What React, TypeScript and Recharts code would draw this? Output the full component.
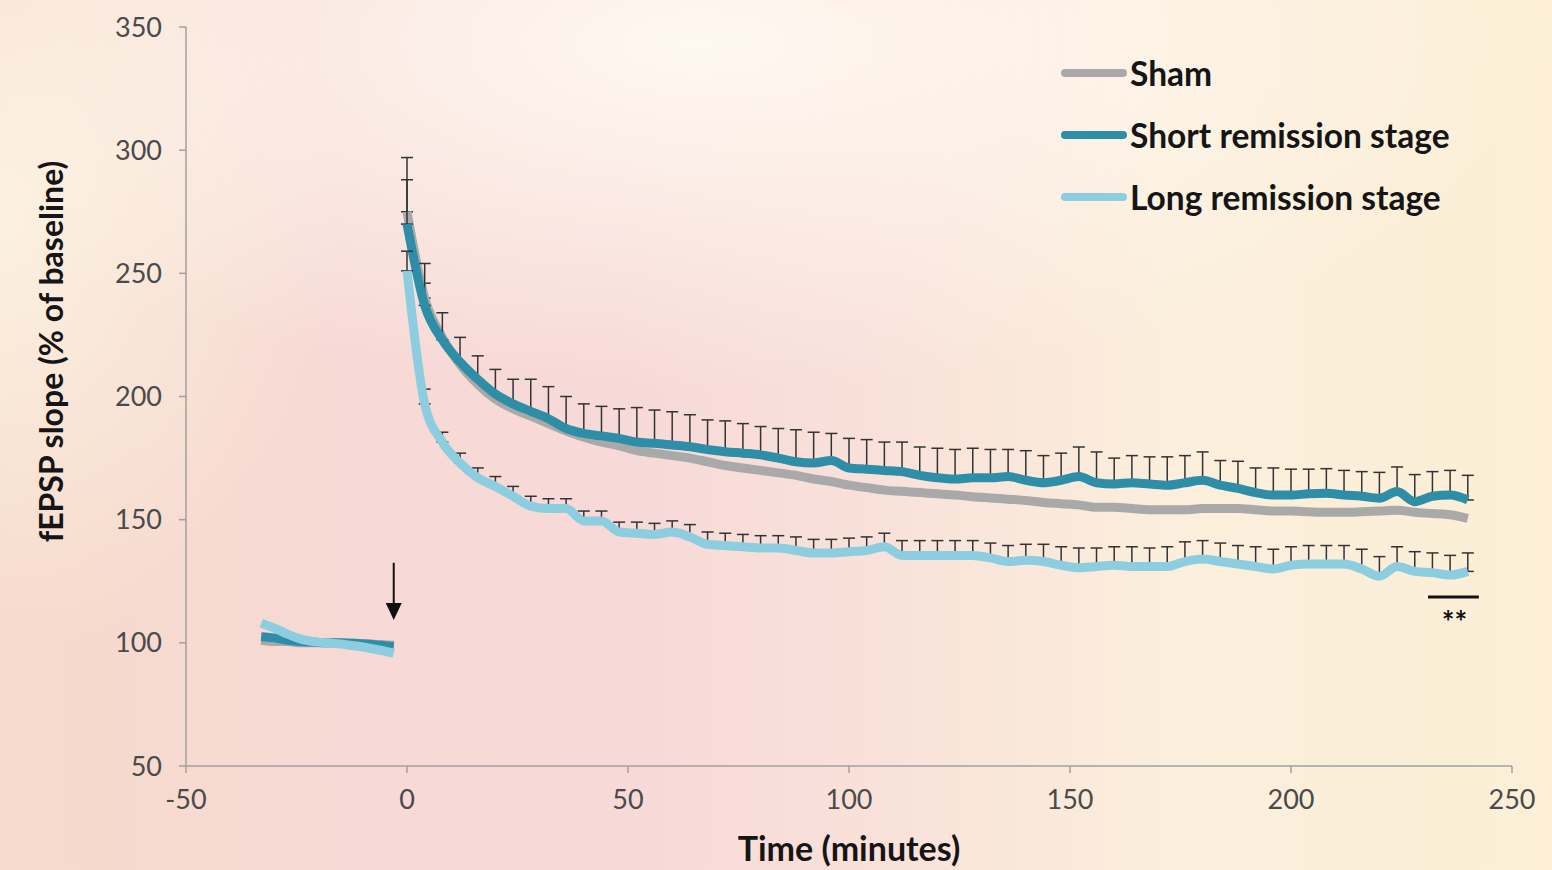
import {
  LineChart,
  Line,
  XAxis,
  YAxis,
  ErrorBar,
  Legend,
  Label,
  ReferenceLine,
  ReferenceDot,
} from 'recharts';

// time grid (minutes)
const baselineTimes = [-33, -30, -27, -24, -21, -18, -15, -12, -9, -6, -3];
const postTimes = [
  0, 4, 8, 12, 16, 20, 24, 28, 32, 36, 40, 44, 48, 52, 56, 60, 64, 68, 72, 76,
  80, 84, 88, 92, 96, 100, 104, 108, 112, 116, 120, 124, 128, 132, 136, 140,
  144, 148, 152, 156, 160, 164, 168, 172, 176, 180, 184, 188, 192, 196, 200,
  204, 208, 212, 216, 220, 224, 228, 232, 236, 240,
];

// baseline, % of baseline
const shamBase = [101, 100.5, 100.5, 100, 100, 100, 100, 99.8, 99.5, 99.3, 99];
const shortBase = [102.5, 102, 101, 100.5, 100.3, 100, 100, 99.8, 99.5, 99, 98.5];
const longBase = [108, 106, 103.5, 101.5, 100.5, 100, 99.5, 98.8, 98, 97, 95.8];

// after tetanus
const shamPost = [
  275, 240, 224, 213, 205, 199, 195, 192, 189, 186, 183.5, 181.5, 180, 178,
  177, 176, 175, 173.5, 172, 171, 170, 169, 168, 166.5, 165.5, 164, 163, 162,
  161.5, 161, 160.5, 160, 159.3, 158.8, 158.3, 157.8, 157, 156.5, 156, 155,
  155, 154.5, 154, 154, 154, 154.5, 154.5, 154.5, 154, 153.5, 153.5, 153.2,
  153, 153, 153.2, 153.5, 153.8, 153, 152.5, 152, 150.5,
];
const shortPost = [
  270, 237, 223, 214, 207, 201, 197, 194, 191, 187, 185, 184, 183, 181.5, 181,
  180.3, 179.6, 178.5, 177.6, 177, 176.3, 175, 173.5, 173, 174, 171, 170.5,
  170, 169.5, 168, 167, 166.5, 167, 167, 167.5, 166, 165, 166, 167.5, 165,
  164.5, 165, 164.5, 164, 165, 166, 164, 162.7, 161, 160, 160, 160.5, 160.7,
  160, 159.5, 158.7, 161.4, 157.3, 159.5, 160, 158,
];
const longPost = [
  251, 197, 181.5, 173, 167, 163.5, 159.5, 155.5, 154.5, 154.5, 149.5, 149.5,
  145, 144.5, 144, 145, 143, 140, 139.5, 139, 138.5, 138.5, 137.5, 136.5,
  136.5, 137, 137.5, 139, 135.5, 135.5, 135.5, 135.5, 135.5, 134.5, 133,
  133.5, 133, 131.5, 130.5, 131, 131.5, 131, 131, 131, 133, 134, 133, 132,
  131, 130, 131.5, 132, 132, 132, 130, 127, 131, 129, 128.5, 127.5, 129,
];

// SEM (upper bars only are visible)
const shamErr = [22, 6];
const shortErr = [
  18, 17, 11, 10, 9.5, 10, 10, 13, 13, 13, 12, 12, 12, 14, 13.5, 13.5, 13, 12,
  12.5, 12, 11.5, 12, 13, 12.5, 11, 12, 12, 11.5, 12, 11.5, 12, 12, 12, 11.5,
  11, 12, 11, 11, 12, 12.5, 10.5, 11, 11, 11.5, 11, 11.5, 10, 11, 10, 11,
  10.5, 10, 10, 10, 10, 10.5, 10, 11, 10, 10, 10,
];
const longErr = [
  8, 6, 4, 4, 4, 4, 4, 4, 4, 4, 4, 4, 4, 4.5, 4.5, 4.5, 5, 5, 5, 5, 5, 5,
  5.5, 5.5, 5.5, 5.5, 5.5, 5.5, 6, 6, 6, 6, 6, 6, 6.5, 6.5, 7, 7.5, 8, 7.5,
  7.5, 8, 7.5, 8, 8, 7.5, 7.5, 7.5, 8, 8, 7.5, 7.5, 7.5, 7.5, 8, 8, 8, 8,
  8, 8, 7.5,
];

const xTicks = [-50, 0, 50, 100, 150, 200, 250];
const yTicks = [50, 100, 150, 200, 250, 300, 350];

const SHAM = '#a9a9a9';
const SHORT = '#2f8ea7';
const LONG = '#8dcde0';
const FONT = 'Lato, "Open Sans", sans-serif';

const legendItems = [
  { name: 'Sham', color: SHAM },
  { name: 'Short remission stage', color: SHORT },
  { name: 'Long remission stage', color: LONG },
];

type Row = {
  t: number;
  sham: number | null;
  short: number | null;
  long: number | null;
  shamE?: [number, number];
  shortE?: [number, number];
  longE?: [number, number];
};

const rows: Row[] = [
  ...baselineTimes.map((t, i) => ({
    t,
    sham: shamBase[i],
    short: shortBase[i],
    long: longBase[i],
  })),
  // gap during tetanus
  { t: -1, sham: null, short: null, long: null },
  ...postTimes.map((t, i) => ({
    t,
    sham: shamPost[i],
    short: shortPost[i],
    long: longPost[i],
    shamE: shamErr[i] !== undefined ? ([0, shamErr[i]] as [number, number]) : undefined,
    shortE: [0, shortErr[i]] as [number, number],
    longE: [0, longErr[i]] as [number, number],
  })),
];

const renderLegend = () => (
  <div style={{ display: 'flex', flexDirection: 'column' }}>
    {legendItems.map((item) => (
      <div key={item.name} style={{ display: 'flex', alignItems: 'center', height: 62 }}>
        <svg width={68} height={14} style={{ marginRight: 2 }}>
          <line x1={5} y1={7} x2={63} y2={7} stroke={item.color} strokeWidth={8} strokeLinecap="round" />
        </svg>
        <span style={{ fontFamily: FONT, fontWeight: 700, fontSize: 33.5, color: '#151515' }}>
          {item.name}
        </span>
      </div>
    ))}
  </div>
);

const arrowHead = (props: any) => {
  const { cx, cy } = props;
  return <path d={`M${cx - 8},${cy - 17} L${cx + 8},${cy - 17} L${cx},${cy} Z`} fill="#111" />;
};

const stars = (props: any) => {
  const { cx, cy } = props;
  return (
    <text x={cx} y={cy} textAnchor="middle" dominantBaseline="central" fontSize={30} fontWeight={700} fill="#111" fontFamily={FONT}>
      **
    </text>
  );
};

export default function App() {
  return (
    <div
      style={{
        position: 'absolute',
        left: 0,
        top: 0,
        width: 1552,
        height: 870,
        overflow: 'hidden',
        background:
          'radial-gradient(ellipse 55% 40% at 45% 5%, rgba(255,250,242,0.95), rgba(255,250,242,0) 100%), radial-gradient(ellipse 22% 50% at 0% 25%, rgba(252,242,226,0.95), rgba(252,242,226,0) 100%), linear-gradient(90deg, #f6dacb 0%, #f7d9d6 25%, #f7d9d7 40%, #f9e2da 58%, #fbeedc 75%, #fcefd6 100%)',
      }}
    >
      <LineChart
        width={1552}
        height={870}
        data={rows}
        margin={{ top: 27, right: 40, bottom: 0, left: 0 }}
      >
        <XAxis
          dataKey="t"
          type="number"
          domain={[-50, 250]}
          ticks={xTicks}
          height={104}
          stroke="#a0a0a0"
          strokeWidth={1.5}
          tickSize={7}
          tickMargin={17}
          tick={{ fontSize: 27, fill: '#4a4a4a', fontFamily: FONT }}
        >
          <Label
            value="Time (minutes)"
            position="insideBottom"
            offset={9}
            style={{ fontSize: 34, fontWeight: 700, fill: '#151515', fontFamily: FONT }}
          />
        </XAxis>
        <YAxis
          type="number"
          domain={[50, 350]}
          ticks={yTicks}
          width={186}
          stroke="#a0a0a0"
          strokeWidth={1.5}
          tickSize={7}
          tickMargin={17}
          tick={{ fontSize: 27, fill: '#4a4a4a', fontFamily: FONT }}
        >
          <Label
            value="fEPSP slope (% of baseline)"
            angle={-90}
            position="center"
            dx={-41}
            dy={-45}
            style={{ fontSize: 32, fontWeight: 700, fill: '#151515', fontFamily: FONT }}
          />
        </YAxis>
        <Legend
          verticalAlign="middle"
          align="center"
          layout="vertical"
          content={renderLegend}
          wrapperStyle={{ position: 'absolute', left: 1060, top: 42, width: 480 }}
        />
        <Line
          type="monotone"
          dataKey="sham"
          stroke={SHAM}
          strokeWidth={9}
          dot={false}
          isAnimationActive={false}
          legendType="none"
        >
          <ErrorBar dataKey="shamE" direction="y" width={6} stroke="#333" strokeWidth={1.5} />
        </Line>
        <Line
          type="monotone"
          dataKey="short"
          stroke={SHORT}
          strokeWidth={9}
          dot={false}
          isAnimationActive={false}
        >
          <ErrorBar dataKey="shortE" direction="y" width={6} stroke="#333" strokeWidth={1.5} />
        </Line>
        <Line
          type="monotone"
          dataKey="long"
          stroke={LONG}
          strokeWidth={9}
          dot={false}
          isAnimationActive={false}
        >
          <ErrorBar dataKey="longE" direction="y" width={6} stroke="#333" strokeWidth={1.5} />
        </Line>
        <ReferenceLine
          segment={[
            { x: -3, y: 132.5 },
            { x: -3, y: 115 },
          ]}
          stroke="#111"
          strokeWidth={2}
        />
        <ReferenceDot x={-3} y={109.3} r={0} shape={arrowHead} />
        <ReferenceLine
          segment={[
            { x: 231, y: 118.6 },
            { x: 242.5, y: 118.6 },
          ]}
          stroke="#111"
          strokeWidth={3}
        />
        <ReferenceDot x={237} y={109} r={0} shape={stars} />
      </LineChart>
    </div>
  );
}
